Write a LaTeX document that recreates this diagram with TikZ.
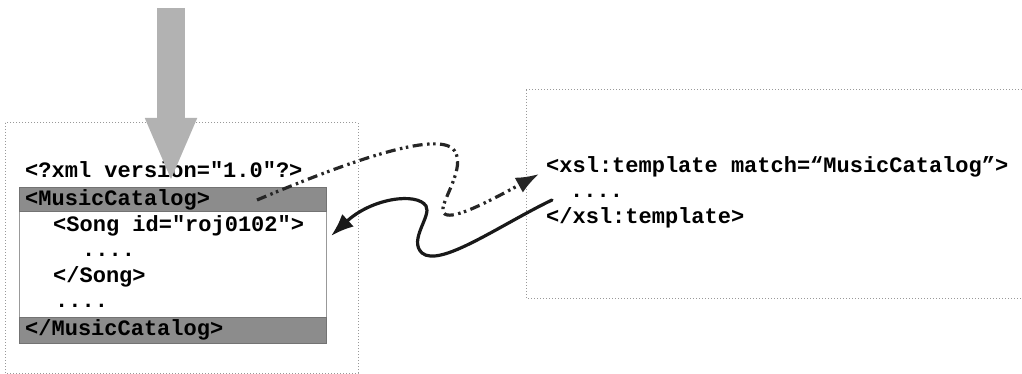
\documentclass[tikz,border=0pt]{standalone}
\usepackage{fontspec}
\setmonofont{Liberation Mono}
\usetikzlibrary{arrows.meta}
\begin{document}
\begin{tikzpicture}[x=1pt,y=-1pt,
  frame/.style={draw=black!40, dotted, line width=1pt},
  bar/.style={fill=black!45, draw=black!55, line width=0.6pt},
  code/.style={anchor=base west, inner sep=0pt, font=\fontsize{22}{26}\ttfamily\bfseries},
  flow/.style={line width=3.2pt, line cap=round, -{Latex[length=23pt,width=17pt]}},
  dashdot/.style={line cap=butt, dash pattern=on 10pt off 4.5pt on 2.5pt off 3.5pt on 2.5pt off 4.5pt}]
\useasboundingbox (0,0) rectangle (1022,374);

% document boxes
\draw[frame] (5,123) rectangle (358,373);
\draw[frame] (526,90) -- (1030,90) (526,90) -- (526,298) -- (1030,298);

% XML document
\node[code] (decl) at (25,178) {<?xml version="1.0"?>};
\fill[white] (19,187) rectangle (326,343);
\draw[black!40, line width=0.8pt] (19,187) rectangle (326,343);
\path[bar] (19,187) rectangle (326,211);
\path[bar] (19,317) rectangle (326,343);
\node[code] (mc) at (25,205) {<MusicCatalog>};
\node[code] (song) at (53,231) {<Song id="roj0102">};
\node[code] (dots1) at (82,256) {....};
\node[code] (endsong) at (53,282) {</Song>};
\node[code] (dots2) at (55,307) {....};
\node[code] (endmc) at (25,335) {</MusicCatalog>};

% XSL template
\node[code] (tpl) at (546,173) {<xsl:template match=“MusicCatalog”>};
\node[code] (tdots) at (570,197) {....};
\node[code] (endtpl) at (546,223) {</xsl:template>};

% input arrow
\coordinate (in) at (171,8);
\coordinate (intip) at (171,182);
\draw[black!30, line width=28pt, -{Triangle[width=47pt,length=64pt]}] (in) -- (intip);

% match and apply connectors
\coordinate (mcfrom) at (257,200);
\coordinate (tplto) at (539,174);
\coordinate (tplfrom) at (552,200);
\coordinate (songto) at (331,236);
\draw[flow, dashdot, black!85] (mcfrom) .. controls (340,165) and (430,132) .. (452,148)
  .. controls (468,162) and (445,195) .. (443,208)
  .. controls (441,224) and (470,212) .. (tplto);
\draw[flow, black!90] (tplfrom) .. controls (500,225) and (440,268) .. (422,253)
  .. controls (408,240) and (432,216) .. (426,206)
  .. controls (417,192) and (372,198) .. (songto);
\end{tikzpicture}
\end{document}
